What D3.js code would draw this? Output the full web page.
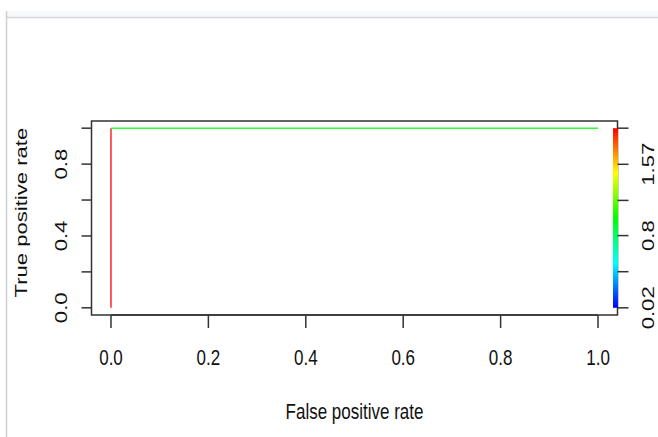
<!doctype html>
<html lang="en">
<head>
<meta charset="utf-8">
<title>ROC curve</title>
<style>
  body { margin: 0; background: #fff; }
  text { font-family: "Liberation Sans", Arial, sans-serif; fill: #111; }
</style>
</head>
<body>
<div id="chart"></div>
<script src="https://d3js.org/d3.v7.min.js"></script>
<script>
// ROC curve points (false positive rate / true positive rate)
const fpr = [0, 0, 1];
const tpr = [0, 1, 1];
// cutoff used to colour each segment of the curve
const segCutoff = [1.96, 0.99];

const xTicks = [0, 0.2, 0.4, 0.6, 0.8, 1.0];
const yTicks = [0, 0.2, 0.4, 0.6, 0.8, 1.0];
const xTickLabels = ["0.0", "0.2", "0.4", "0.6", "0.8", "1.0"];
const yTickLabels = ["0.0", "", "0.4", "", "0.8", ""];

// colour bar (cutoff range)
const cutMin = 0.02, cutMax = 1.96;
const barTicks = [0.02, 0.41, 0.8, 1.18, 1.57, 1.96];
const barTickLabels = ["0.02", "", "0.8", "", "1.57", ""];

const W = 658, H = 437;
const SY = 1.3;   // the screenshot is stretched vertically
const fs = 17;

const svg = d3.select("#chart").append("svg")
  .attr("width", W).attr("height", H);

// window frame bits around the plot
svg.append("rect").attr("x", 6).attr("y", 11).attr("width", W - 6).attr("height", 6).attr("fill", "#f7f8f9");
svg.append("line").attr("x1", 6).attr("x2", W).attr("y1", 17.5).attr("y2", 17.5).attr("stroke", "#d3d7dc").attr("stroke-width", 1.5);
svg.append("line").attr("x1", 6.5).attr("x2", 6.5).attr("y1", 11).attr("y2", H).attr("stroke", "#cfcfcf").attr("stroke-width", 1.5);

const box = {left: 91.5, right: 617.5, top: 121, bottom: 315};

const x = d3.scaleLinear().domain([-0.04, 1.04]).range([box.left, box.right]);
const y = d3.scaleLinear().domain([-0.04, 1.04]).range([box.bottom, box.top]);
const colour = d3.scaleLinear().domain([cutMin, cutMax]).range([240, 0]);
const col = v => d3.hsl(colour(v), 1, 0.5).formatHex();

function label(px, py, str, rot) {
  svg.append("text")
    .attr("transform", `translate(${px},${py}) scale(1,${SY}) rotate(${rot})`)
    .attr("text-anchor", "middle")
    .attr("font-size", fs)
    .text(str);
}

// plot box
svg.append("rect")
  .attr("x", box.left).attr("y", box.top)
  .attr("width", box.right - box.left).attr("height", box.bottom - box.top)
  .attr("fill", "none").attr("stroke", "#333").attr("stroke-width", 1.5);

// x axis
const gx = svg.append("g").attr("stroke", "#333").attr("stroke-width", 1.5);
gx.append("line").attr("x1", x(0)).attr("x2", x(1)).attr("y1", box.bottom).attr("y2", box.bottom);
gx.selectAll(".t").data(xTicks).enter().append("line")
  .attr("x1", d => x(d)).attr("x2", d => x(d))
  .attr("y1", box.bottom).attr("y2", box.bottom + 13);
xTicks.forEach((d, i) => label(x(d), 365, xTickLabels[i], 0));
label((x(0) + x(1)) / 2, 419, "False positive rate", 0);

// y axis
const gy = svg.append("g").attr("stroke", "#333").attr("stroke-width", 1.5);
gy.selectAll(".t").data(yTicks).enter().append("line")
  .attr("x1", box.left - 10).attr("x2", box.left)
  .attr("y1", d => y(d)).attr("y2", d => y(d));
yTicks.forEach((d, i) => { if (yTickLabels[i]) label(67, y(d), yTickLabels[i], -90); });
label(27, y(0.53), "True positive rate", -90);

// curve
for (let i = 0; i < fpr.length - 1; i++) {
  svg.append("line")
    .attr("x1", x(fpr[i])).attr("y1", y(tpr[i]))
    .attr("x2", x(fpr[i + 1])).attr("y2", y(tpr[i + 1]))
    .attr("stroke", col(segCutoff[i])).attr("stroke-width", 1.6).attr("opacity", 0.8);
}

// colour bar
const grad = svg.append("defs").append("linearGradient")
  .attr("id", "bar").attr("x1", 0).attr("x2", 0).attr("y1", 1).attr("y2", 0);
d3.range(0, 1.0001, 0.05).forEach(t => {
  grad.append("stop").attr("offset", t).attr("stop-color", col(cutMin + t * (cutMax - cutMin)));
});
svg.append("rect")
  .attr("x", 613).attr("width", 5)
  .attr("y", y(1)).attr("height", y(0) - y(1))
  .attr("fill", "url(#bar)");

const bar = d3.scaleLinear().domain([cutMin, cutMax]).range([y(0), y(1)]);
const gb = svg.append("g").attr("stroke", "#333").attr("stroke-width", 1.5);
gb.selectAll(".t").data(barTicks).enter().append("line")
  .attr("x1", box.right).attr("x2", box.right + 11)
  .attr("y1", d => bar(d)).attr("y2", d => bar(d));
barTicks.forEach((d, i) => { if (barTickLabels[i]) label(654, bar(d), barTickLabels[i], -90); });
</script>
</body>
</html>
